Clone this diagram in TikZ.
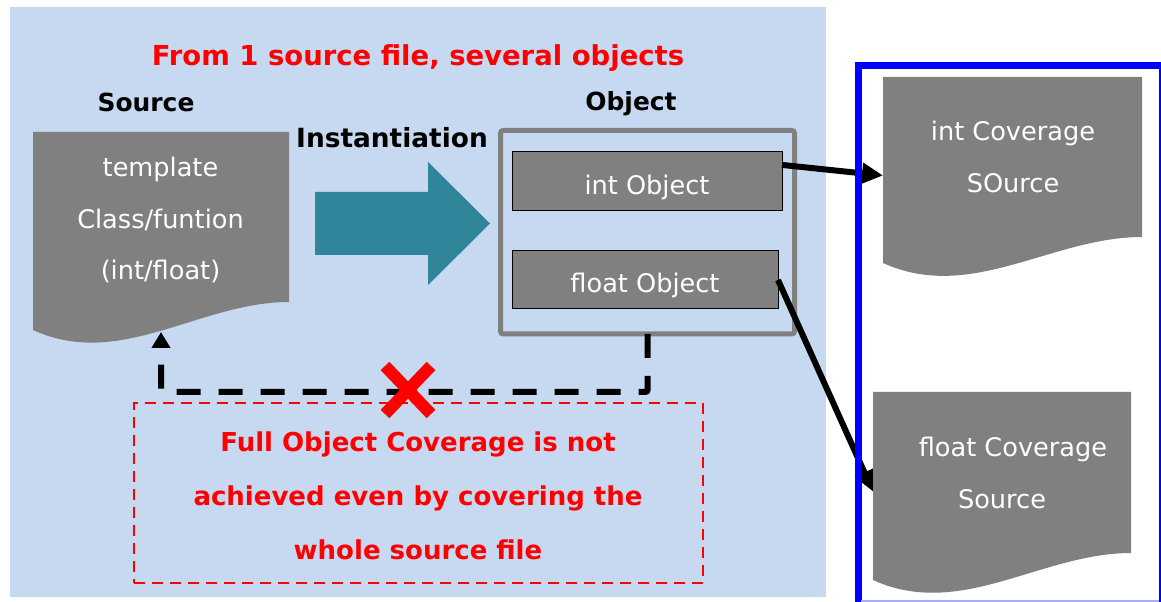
\documentclass[tikz,border=0pt]{standalone}
\usepackage{fontspec}
\setmainfont{DejaVu Sans}
\usetikzlibrary{arrows.meta}

\definecolor{bgblue}{RGB}{198,217,240}
\definecolor{docgray}{RGB}{128,128,128}
\definecolor{arrowteal}{RGB}{49,133,155}
\definecolor{frameblue}{RGB}{0,0,255}
\definecolor{frameedge}{RGB}{170,170,255}
\definecolor{alertred}{RGB}{255,0,0}

% wavy "document" silhouette: x1, top, x2, right bottom, left bottom
\newcommand\docfill[5]{%
  \fill[docgray] (#1,#2) -- (#3,#2) -- (#3,#4)
    .. controls ({#1+0.65*(#3-#1)},#4) and ({#1+0.34*(#3-#1)},{#5+40}) ..
    (#1,#5) -- cycle;}

\begin{document}
\begin{tikzpicture}[x=0.75pt,y=-0.75pt,
  area/.style={inner sep=0pt,outer sep=0pt,anchor=north west},
  objbox/.style={area,draw=black,line width=0.75pt,fill=docgray,text=white,
    text height=24pt,text depth=4.5pt,
    font=\fontsize{19.2}{23}\selectfont},
  doctext/.style={text=white,align=center,font=\fontsize{19.2}{38.6}\selectfont},
  headlbl/.style={font=\bfseries\fontsize{18.7}{22}\selectfont},
  conn/.style={draw=black,line width=4.5pt,-{Triangle[length=15.75pt,width=15pt]}},
  feedback/.style={draw=black,line width=4.5pt,dash pattern=on 18pt off 13.5pt,
    rounded corners=1.5pt,-{Triangle[length=12pt,width=13.5pt]}},
]
\useasboundingbox (0,0) rectangle (1161,602);
\fill[white] (0,0) rectangle (1161,602);
\fill[bgblue] (10,7) rectangle (826,597);

% titles
\node (title) at (418,58) {\color{alertred}\bfseries\fontsize{20.6}{25}\selectfont From 1 source file, several objects};
\node[headlbl] (srclbl) at (146,102) {Source};
\node[headlbl] (objlbl) at (631,104) {Object};
\node[font=\bfseries\fontsize{19.8}{23}\selectfont] (instlbl) at (392,138) {Instantiation};

% source document
\docfill{33}{132}{289}{302}{330}
\node[area,minimum width=192pt,minimum height=157.5pt] (src) at (33,132) {};
\node[doctext] (srctext) at (160.5,220) {template\\Class/funtion\\(int/float)};
\coordinate (srctip) at (161,332);

% instantiation block arrow
\fill[arrowteal] (315,192) -- (428,192) -- (428,162) -- (490,223.5)
  -- (428,285) -- (428,255) -- (315,255) -- cycle;

% object container and the two objects
\node[area,draw=docgray,line width=3.75pt,rounded corners=2pt,
  minimum width=220.5pt,minimum height=152.6pt] (objs) at (500.5,130.5) {};
\node[objbox,minimum width=202.5pt,minimum height=44.25pt] (intobj) at (512,152) {int Object};
\node[objbox,minimum width=199.5pt,minimum height=43.5pt] (floatobj) at (512,251) {float Object};

% coverage documents (areas)
\node[area,minimum width=194.25pt,minimum height=147.75pt] (intcov) at (883,77) {};
\node[area,minimum width=193.5pt,minimum height=149.25pt] (floatcov) at (873,392) {};

% object -> coverage connectors
\draw[conn] (intobj.7) -- (intcov.west);
\draw[conn] (floatobj.east) -- (floatcov.west);

% coverage frame
\draw[frameblue,line width=5.25pt] (858,606) -- (858,65.5) -- (1166,65.5);
\draw[frameblue,line width=1.5pt] (1159.5,66) -- (1159.5,602);
\draw[frameedge,line width=1.5pt] (861,601) -- (1159,601);

\docfill{883}{77}{1142}{237}{263}
\docfill{873}{392}{1131}{553}{580}
\node[doctext] (intcovtext) at (1013,157) {int Coverage\\SOurce};
\node[doctext] (floatcovtext) at (1013,473) {float Coverage\\Source\hspace*{16.5pt}};

% feedback path back to the source
\draw[feedback] (objs.south) -- ++(0,58) -| (srctip);

% note box
\node[area,draw=alertred,line width=1.9pt,dash pattern=on 8.25pt off 5.25pt,
  minimum width=426.75pt,minimum height=135pt] (note) at (134,403) {};
\node[text=alertred,align=center,font=\bfseries\fontsize{19.5}{40.5}\selectfont]
  (notetext) at (418,496) {Full Object Coverage is not\\achieved even by covering the\\whole source file};

% cross mark
\draw[alertred,line width=9pt] (385,366) -- (431,414) (385,414) -- (431,366);
\end{tikzpicture}
\end{document}
